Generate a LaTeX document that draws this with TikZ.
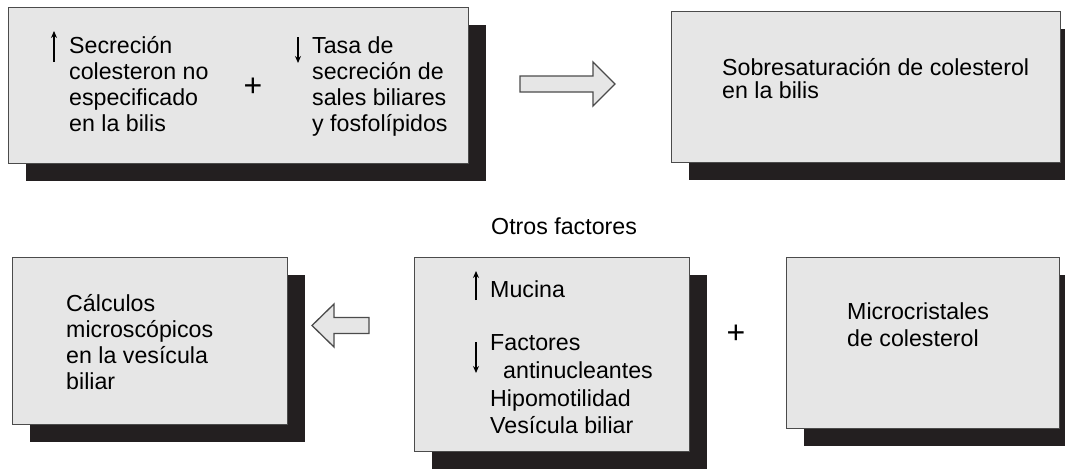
\documentclass[tikz,border=0pt]{standalone}
\usepackage{fontspec}
\setmainfont{Liberation Sans}
\usetikzlibrary{arrows.meta,shadows}
\definecolor{boxfill}{RGB}{230,230,230}
\definecolor{boxline}{RGB}{75,75,75}
\definecolor{shadowc}{RGB}{35,31,32}
\tikzset{
  box/.style={draw=boxline,line width=1.2pt,fill=boxfill,inner sep=0pt,anchor=north west,
    drop shadow={shadow xshift=17.5pt,shadow yshift=-17.5pt,fill=shadowc,opacity=1}},
  txt/.style={anchor=base west,inner sep=0pt,font=\fontsize{23.2}{26}\selectfont},
  plus/.style={inner sep=0pt,font=\fontsize{32}{32}\selectfont},
  updown/.style={line width=1.3pt,-{Stealth[length=7pt,width=6pt]}},
  blockarrow/.style={draw=boxline,line width=1.3pt,fill=boxfill,line join=miter}
}
\begin{document}
\begin{tikzpicture}[x=1pt,y=-1pt]
\useasboundingbox (0,0) rectangle (1065,469);
\clip (0,0) rectangle (1065,469);
% boxes
\node[box,minimum width=460pt,minimum height=156pt] (b1) at (8,7) {};
\node[box,minimum width=389pt,minimum height=151pt] (b2) at (671,11) {};
\node[box,minimum width=275pt,minimum height=167pt] (b3) at (12,257) {};
\node[box,minimum width=275pt,minimum height=194pt] (b4) at (414,257) {};
\node[box,minimum width=273pt,minimum height=171pt] (b5) at (786,257) {};
% box 1 text
\foreach \t [count=\i] in {Secreción,colesteron no,especificado,en la bilis}
  \node[txt] (b1l\i) at (69,{27+26*\i}) {\t};
\foreach \t [count=\i] in {Tasa de,secreción de,sales biliares,y fosfolípidos}
  \node[txt] (b1r\i) at (312,{27+26*\i}) {\t};
\coordinate (u1s) at (54,62); \coordinate (u1e) at (54,31);
\draw[updown] (u1s) -- (u1e);
\coordinate (d1s) at (298,37); \coordinate (d1e) at (298,63);
\draw[updown] (d1s) -- (d1e);
\node[plus] (p1) at (253,87) {+};
% box 2 text
\node[txt] (b2l1) at (722,75) {Sobresaturación de colesterol};
\node[txt] (b2l2) at (722,98) {en la bilis};
% box 3 text
\foreach \t [count=\i] in {Cálculos,microscópicos,en la vesícula,biliar}
  \node[txt] (b3l\i) at (66,{285+26*\i}) {\t};
% box 4 text
\node[txt] (otros) at (491,234) {Otros factores};
\node[txt] (b4l1) at (490,297) {Mucina};
\node[txt] (b4l2) at (490,350) {Factores};
\node[txt] (b4l3) at (503,378) {antinucleantes};
\node[txt] (b4l4) at (490,406) {Hipomotilidad};
\node[txt] (b4l5) at (490,433) {Vesícula biliar};
\coordinate (u4s) at (476,300); \coordinate (u4e) at (476,271);
\draw[updown] (u4s) -- (u4e);
\coordinate (d4s) at (476,342); \coordinate (d4e) at (476,373);
\draw[updown] (d4s) -- (d4e);
\node[plus] (p2) at (736,334) {+};
% box 5 text
\node[txt] (b5l1) at (847,319) {Microcristales};
\node[txt] (b5l2) at (847,346) {de colesterol};
% block arrows
\coordinate (a1) at (520,84);
\draw[blockarrow] (a1) ++(0,-8) -- ++(73,0) -- ++(0,-14) -- ++(22,22) -- ++(-22,22) -- ++(0,-14) -- ++(-73,0) -- cycle;
\coordinate (a2) at (369,325.5);
\draw[blockarrow] (a2) ++(0,-8) -- ++(-35,0) -- ++(0,-13.5) -- ++(-22,21.5) -- ++(22,21.5) -- ++(0,-13.5) -- ++(35,0) -- cycle;
\end{tikzpicture}
\end{document}
